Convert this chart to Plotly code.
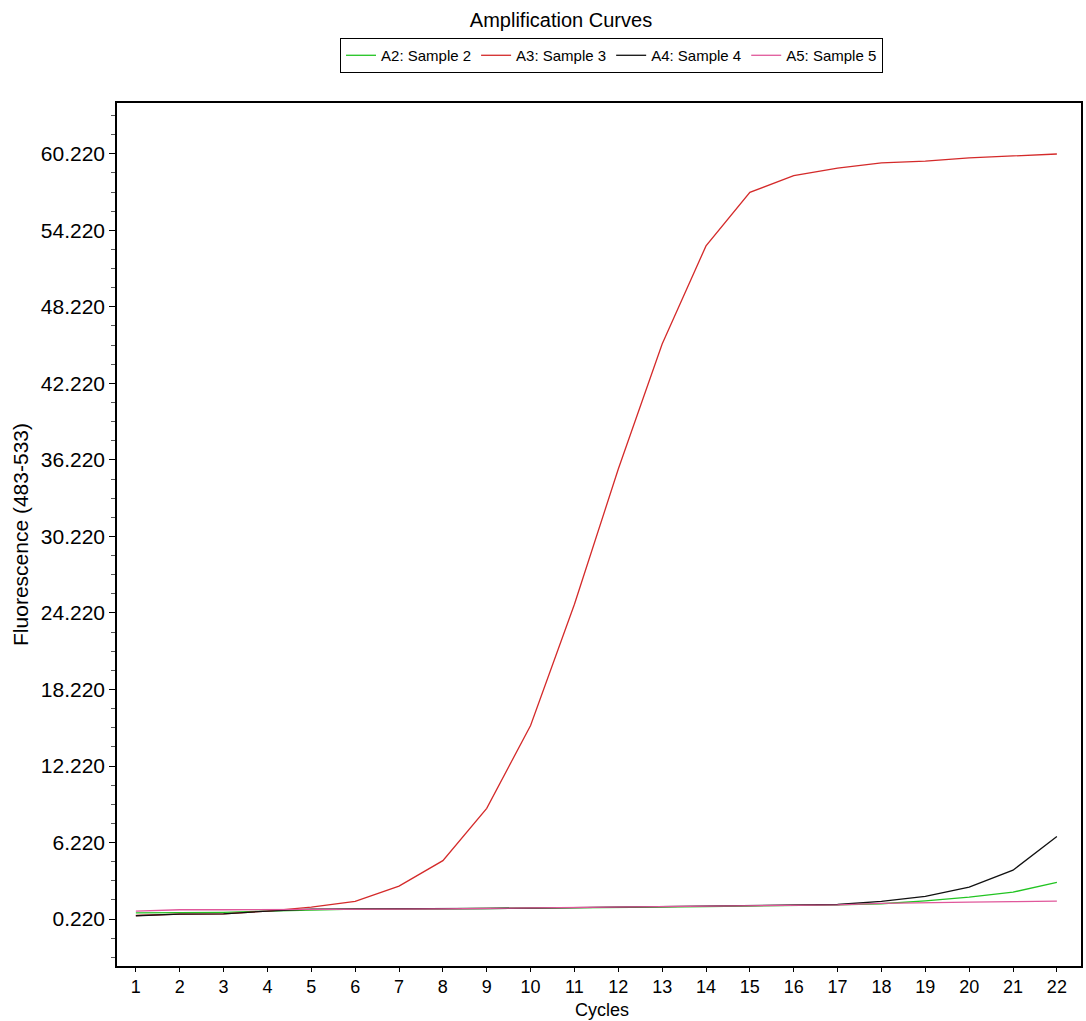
import plotly.graph_objects as go

cycles = list(range(1, 23))
a2_sample2 = [0.70, 0.72, 0.75, 0.85, 0.95, 1.00, 1.00, 1.02, 1.05, 1.08, 1.12, 1.14, 1.16, 1.20, 1.24, 1.28, 1.33, 1.42, 1.65, 1.94, 2.33, 3.10]
a3_sample3 = [0.50, 0.60, 0.62, 0.85, 1.16, 1.60, 2.80, 4.80, 8.90, 15.40, 24.90, 35.50, 45.30, 53.00, 57.20, 58.50, 59.10, 59.50, 59.65, 59.90, 60.05, 60.20]
a4_sample4 = [0.48, 0.60, 0.62, 0.85, 1.00, 1.00, 1.00, 1.02, 1.05, 1.08, 1.12, 1.14, 1.16, 1.22, 1.26, 1.30, 1.36, 1.60, 2.00, 2.72, 4.05, 6.70]
a5_sample5 = [0.85, 0.95, 0.95, 0.95, 0.98, 1.00, 1.00, 1.02, 1.05, 1.08, 1.12, 1.14, 1.16, 1.20, 1.24, 1.28, 1.33, 1.45, 1.52, 1.55, 1.58, 1.62]

series = [
    ("A2: Sample 2", a2_sample2, "#22c422"),
    ("A3: Sample 3", a3_sample3, "#d42a2a"),
    ("A4: Sample 4", a4_sample4, "#111111"),
    ("A5: Sample 5", a5_sample5, "#e0589b"),
]

fig = go.Figure()
for name, vals, col in series:
    fig.add_trace(go.Scatter(x=cycles, y=vals, mode="lines", name=name,
                             line=dict(color=col, width=1.3)))

font = "Liberation Sans, Arial, sans-serif"
fig.update_layout(
    width=1086, height=1021,
    margin=dict(l=117, r=3, t=103, b=55),
    paper_bgcolor="white", plot_bgcolor="white",
    title=dict(text="Amplification Curves", x=561 / 1086, xanchor="center", y=1 - 20 / 1021, yanchor="middle",
               font=dict(family=font, size=20, color="black")),
    showlegend=True,
    legend=dict(orientation="h", x=0.513, xanchor="center", y=1.055, yanchor="middle",
                bordercolor="black", borderwidth=1, bgcolor="white",
                font=dict(family=font, size=15, color="black"),
                itemwidth=30, tracegroupgap=0),
    font=dict(family=font, color="black"),
    annotations=[dict(text="Cycles", xref="paper", yref="paper", x=(603 - 117) / 966, y=-(1021 - 966) / 863,
                      xanchor="center", yanchor="bottom", showarrow=False, borderpad=0,
                      font=dict(family=font, size=18, color="black"))],
)
fig.update_xaxes(
    range=[0.57, 22.55], tickmode="linear", tick0=1, dtick=1,
    showgrid=False, zeroline=False,
    showline=True, linecolor="black", linewidth=1.5, mirror=True,
    ticks="outside", ticklen=4, tickcolor="black",
    tickfont=dict(family=font, size=18),
)
fig.update_yaxes(
    range=[-3.46, 64.2], tickmode="linear", tick0=0.22, dtick=6, tickformat=".3f",
    showgrid=False, zeroline=False,
    showline=True, linecolor="black", linewidth=1.5, mirror=True,
    ticks="outside", ticklen=6, tickcolor="black",
    minor=dict(ticks="outside", ticklen=4, dtick=1.5, tick0=0.22, tickcolor="#555555"),
    tickfont=dict(family=font, size=21),
    title=dict(text="Fluorescence (483-533)", font=dict(family=font, size=21), standoff=6),
)
fig.write_html("out.html")
